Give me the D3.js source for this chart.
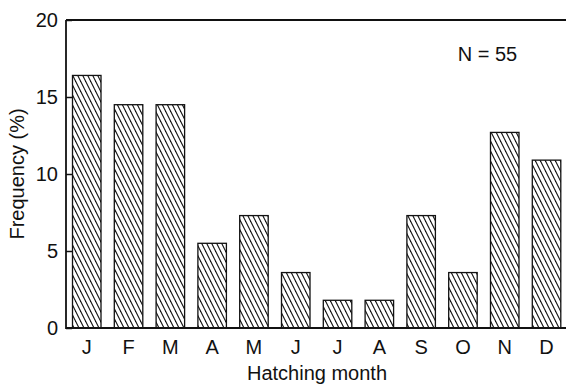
<!DOCTYPE html>
<html>
<head>
<meta charset="utf-8">
<script src="https://cdn.jsdelivr.net/npm/d3@7"></script>
<style>
  html, body { margin: 0; padding: 0; background: #fff; }
  svg { display: block; font-family: "Liberation Sans", Arial, Helvetica, sans-serif; }
</style>
</head>
<body>
<svg id="chart" width="566" height="387"></svg>
<script>
// Hatching month distribution (N = 55)
const months = ["J", "F", "M", "A", "M", "J", "J", "A", "S", "O", "N", "D"];
const frequency = [16.4, 14.5, 14.5, 5.5, 7.3, 3.6, 1.8, 1.8, 7.3, 3.6, 12.7, 10.9];
const yTicks = [0, 5, 10, 15, 20];
const sampleLabel = "N = 55";

const svg = d3.select("#chart");
const plotLeft = 66, plotRight = 566, plotTop = 20, plotBottom = 328;
const fontSize = 20;

const x = d3.scaleBand()
  .domain(d3.range(months.length))
  .range([72.5, 560.8])
  .paddingInner(0.318)
  .paddingOuter(0);

const y = d3.scaleLinear().domain([0, 20]).range([plotBottom, plotTop]);

// diagonal hatch fill
const hw = 5, hh = 10;
const pat = svg.append("defs").append("pattern")
  .attr("id", "hatch")
  .attr("patternUnits", "userSpaceOnUse")
  .attr("width", hw).attr("height", hh);
[-hw, 0, hw].forEach(dx => {
  pat.append("line")
    .attr("x1", dx - 1).attr("y1", -2)
    .attr("x2", dx + hw + 1).attr("y2", hh + 2)
    .attr("stroke", "#111").attr("stroke-width", 1.1);
});

// bars
svg.append("g").selectAll("rect")
  .data(frequency)
  .join("rect")
  .attr("x", (d, i) => x(i))
  .attr("width", x.bandwidth())
  .attr("y", d => y(d))
  .attr("height", d => y(0) - y(d))
  .attr("fill", "url(#hatch)")
  .attr("stroke", "#111")
  .attr("stroke-width", 1.3);

// y axis with inward ticks
const yAxis = d3.axisRight(y).tickValues(yTicks).tickSize(6).tickFormat(d3.format("d"));
const gy = svg.append("g").attr("transform", `translate(${plotLeft},0)`).call(yAxis);
gy.select(".domain").remove();
gy.selectAll(".tick line").attr("stroke", "#111").attr("stroke-width", 1.5);
gy.selectAll(".tick text")
  .attr("x", -8)
  .attr("dy", "0.33em")
  .attr("text-anchor", "end")
  .attr("font-size", fontSize)
  .attr("fill", "#111");

// frame: left, top and baseline
svg.append("line").attr("x1", plotLeft).attr("x2", plotLeft).attr("y1", plotTop).attr("y2", plotBottom + 1)
  .attr("stroke", "#111").attr("stroke-width", 1.8);
svg.append("line").attr("x1", plotLeft).attr("x2", plotRight).attr("y1", plotTop).attr("y2", plotTop)
  .attr("stroke", "#111").attr("stroke-width", 1.8);
svg.append("line").attr("x1", plotLeft).attr("x2", plotRight).attr("y1", plotBottom).attr("y2", plotBottom)
  .attr("stroke", "#111").attr("stroke-width", 1.8);

// month labels
svg.append("g").selectAll("text")
  .data(months)
  .join("text")
  .attr("x", (d, i) => x(i) + x.bandwidth() / 2)
  .attr("y", 354)
  .attr("text-anchor", "middle")
  .attr("font-size", fontSize)
  .attr("fill", "#111")
  .text(d => d);

// axis titles
svg.append("text")
  .attr("x", 317).attr("y", 380)
  .attr("text-anchor", "middle")
  .attr("font-size", fontSize)
  .attr("fill", "#111")
  .text("Hatching month");

svg.append("text")
  .attr("transform", "translate(24,174) rotate(-90)")
  .attr("text-anchor", "middle")
  .attr("font-size", fontSize)
  .attr("fill", "#111")
  .text("Frequency (%)");

svg.append("text")
  .attr("x", 487.5).attr("y", 61)
  .attr("text-anchor", "middle")
  .attr("font-size", fontSize)
  .attr("fill", "#111")
  .text(sampleLabel);
</script>
</body>
</html>
